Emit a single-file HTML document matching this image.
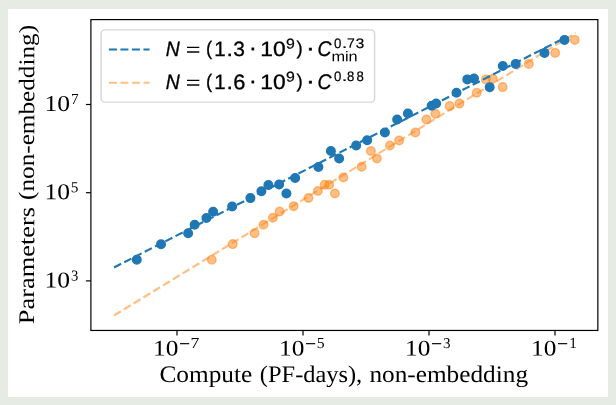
<!DOCTYPE html>
<html><head><meta charset="utf-8"><title>Parameters vs Compute scaling plot</title>
<style>html,body{margin:0;padding:0;background:#e6ece3;overflow:hidden;width:616px;height:405px} svg{display:block;will-change:transform} text{text-rendering:geometricPrecision}</style>
</head><body>
<svg width="616" height="405" viewBox="0 0 616 405">
<rect x="0" y="0" width="616" height="405" fill="#e6ece3"/>
<rect x="8" y="9" width="600" height="388" fill="#ffffff"/>
<line x1="114.00" y1="315.48" x2="575.50" y2="32.95" stroke="#ff7f0e" stroke-opacity="0.5" stroke-width="2.15" stroke-dasharray="8.03 3.47"/>
<circle cx="211.80" cy="259.80" r="4.3" fill="#ff7f0e" fill-opacity="0.5" stroke="#ff7f0e" stroke-opacity="0.5" stroke-width="1.4"/>
<circle cx="232.70" cy="244.10" r="4.3" fill="#ff7f0e" fill-opacity="0.5" stroke="#ff7f0e" stroke-opacity="0.5" stroke-width="1.4"/>
<circle cx="254.60" cy="233.20" r="4.3" fill="#ff7f0e" fill-opacity="0.5" stroke="#ff7f0e" stroke-opacity="0.5" stroke-width="1.4"/>
<circle cx="263.50" cy="224.80" r="4.3" fill="#ff7f0e" fill-opacity="0.5" stroke="#ff7f0e" stroke-opacity="0.5" stroke-width="1.4"/>
<circle cx="272.90" cy="217.75" r="4.3" fill="#ff7f0e" fill-opacity="0.5" stroke="#ff7f0e" stroke-opacity="0.5" stroke-width="1.4"/>
<circle cx="279.65" cy="211.50" r="4.3" fill="#ff7f0e" fill-opacity="0.5" stroke="#ff7f0e" stroke-opacity="0.5" stroke-width="1.4"/>
<circle cx="293.65" cy="206.25" r="4.3" fill="#ff7f0e" fill-opacity="0.5" stroke="#ff7f0e" stroke-opacity="0.5" stroke-width="1.4"/>
<circle cx="308.40" cy="198.00" r="4.3" fill="#ff7f0e" fill-opacity="0.5" stroke="#ff7f0e" stroke-opacity="0.5" stroke-width="1.4"/>
<circle cx="317.90" cy="191.00" r="4.3" fill="#ff7f0e" fill-opacity="0.5" stroke="#ff7f0e" stroke-opacity="0.5" stroke-width="1.4"/>
<circle cx="324.65" cy="184.75" r="4.3" fill="#ff7f0e" fill-opacity="0.5" stroke="#ff7f0e" stroke-opacity="0.5" stroke-width="1.4"/>
<circle cx="329.15" cy="184.75" r="4.3" fill="#ff7f0e" fill-opacity="0.5" stroke="#ff7f0e" stroke-opacity="0.5" stroke-width="1.4"/>
<circle cx="334.90" cy="193.50" r="4.3" fill="#ff7f0e" fill-opacity="0.5" stroke="#ff7f0e" stroke-opacity="0.5" stroke-width="1.4"/>
<circle cx="343.40" cy="177.50" r="4.3" fill="#ff7f0e" fill-opacity="0.5" stroke="#ff7f0e" stroke-opacity="0.5" stroke-width="1.4"/>
<circle cx="361.65" cy="166.75" r="4.3" fill="#ff7f0e" fill-opacity="0.5" stroke="#ff7f0e" stroke-opacity="0.5" stroke-width="1.4"/>
<circle cx="370.90" cy="151.00" r="4.3" fill="#ff7f0e" fill-opacity="0.5" stroke="#ff7f0e" stroke-opacity="0.5" stroke-width="1.4"/>
<circle cx="376.90" cy="158.50" r="4.3" fill="#ff7f0e" fill-opacity="0.5" stroke="#ff7f0e" stroke-opacity="0.5" stroke-width="1.4"/>
<circle cx="389.90" cy="145.50" r="4.3" fill="#ff7f0e" fill-opacity="0.5" stroke="#ff7f0e" stroke-opacity="0.5" stroke-width="1.4"/>
<circle cx="399.15" cy="140.50" r="4.3" fill="#ff7f0e" fill-opacity="0.5" stroke="#ff7f0e" stroke-opacity="0.5" stroke-width="1.4"/>
<circle cx="415.40" cy="132.50" r="4.3" fill="#ff7f0e" fill-opacity="0.5" stroke="#ff7f0e" stroke-opacity="0.5" stroke-width="1.4"/>
<circle cx="426.40" cy="119.50" r="4.3" fill="#ff7f0e" fill-opacity="0.5" stroke="#ff7f0e" stroke-opacity="0.5" stroke-width="1.4"/>
<circle cx="435.40" cy="113.75" r="4.3" fill="#ff7f0e" fill-opacity="0.5" stroke="#ff7f0e" stroke-opacity="0.5" stroke-width="1.4"/>
<circle cx="449.65" cy="106.10" r="4.3" fill="#ff7f0e" fill-opacity="0.5" stroke="#ff7f0e" stroke-opacity="0.5" stroke-width="1.4"/>
<circle cx="459.40" cy="103.60" r="4.3" fill="#ff7f0e" fill-opacity="0.5" stroke="#ff7f0e" stroke-opacity="0.5" stroke-width="1.4"/>
<circle cx="476.70" cy="92.70" r="4.3" fill="#ff7f0e" fill-opacity="0.5" stroke="#ff7f0e" stroke-opacity="0.5" stroke-width="1.4"/>
<circle cx="485.90" cy="79.40" r="4.3" fill="#ff7f0e" fill-opacity="0.5" stroke="#ff7f0e" stroke-opacity="0.5" stroke-width="1.4"/>
<circle cx="492.80" cy="78.80" r="4.3" fill="#ff7f0e" fill-opacity="0.5" stroke="#ff7f0e" stroke-opacity="0.5" stroke-width="1.4"/>
<circle cx="502.70" cy="87.10" r="4.3" fill="#ff7f0e" fill-opacity="0.5" stroke="#ff7f0e" stroke-opacity="0.5" stroke-width="1.4"/>
<circle cx="528.80" cy="63.90" r="4.3" fill="#ff7f0e" fill-opacity="0.5" stroke="#ff7f0e" stroke-opacity="0.5" stroke-width="1.4"/>
<circle cx="555.15" cy="52.90" r="4.3" fill="#ff7f0e" fill-opacity="0.5" stroke="#ff7f0e" stroke-opacity="0.5" stroke-width="1.4"/>
<circle cx="574.75" cy="39.90" r="4.3" fill="#ff7f0e" fill-opacity="0.5" stroke="#ff7f0e" stroke-opacity="0.5" stroke-width="1.4"/>
<line x1="114.00" y1="267.45" x2="564.10" y2="38.26" stroke="#1f77b4" stroke-width="2.15" stroke-dasharray="8.03 3.47"/>
<circle cx="136.80" cy="259.80" r="4.3" fill="#1f77b4" stroke="#1f77b4" stroke-width="1.4"/>
<circle cx="161.00" cy="244.30" r="4.3" fill="#1f77b4" stroke="#1f77b4" stroke-width="1.4"/>
<circle cx="188.15" cy="233.25" r="4.3" fill="#1f77b4" stroke="#1f77b4" stroke-width="1.4"/>
<circle cx="194.65" cy="224.75" r="4.3" fill="#1f77b4" stroke="#1f77b4" stroke-width="1.4"/>
<circle cx="206.40" cy="218.00" r="4.3" fill="#1f77b4" stroke="#1f77b4" stroke-width="1.4"/>
<circle cx="213.15" cy="211.75" r="4.3" fill="#1f77b4" stroke="#1f77b4" stroke-width="1.4"/>
<circle cx="232.15" cy="206.50" r="4.3" fill="#1f77b4" stroke="#1f77b4" stroke-width="1.4"/>
<circle cx="250.40" cy="198.10" r="4.3" fill="#1f77b4" stroke="#1f77b4" stroke-width="1.4"/>
<circle cx="261.40" cy="191.25" r="4.3" fill="#1f77b4" stroke="#1f77b4" stroke-width="1.4"/>
<circle cx="268.40" cy="185.00" r="4.3" fill="#1f77b4" stroke="#1f77b4" stroke-width="1.4"/>
<circle cx="279.15" cy="184.50" r="4.3" fill="#1f77b4" stroke="#1f77b4" stroke-width="1.4"/>
<circle cx="286.40" cy="193.50" r="4.3" fill="#1f77b4" stroke="#1f77b4" stroke-width="1.4"/>
<circle cx="295.15" cy="178.00" r="4.3" fill="#1f77b4" stroke="#1f77b4" stroke-width="1.4"/>
<circle cx="318.40" cy="167.00" r="4.3" fill="#1f77b4" stroke="#1f77b4" stroke-width="1.4"/>
<circle cx="330.90" cy="151.00" r="4.3" fill="#1f77b4" stroke="#1f77b4" stroke-width="1.4"/>
<circle cx="339.15" cy="158.50" r="4.3" fill="#1f77b4" stroke="#1f77b4" stroke-width="1.4"/>
<circle cx="356.15" cy="145.50" r="4.3" fill="#1f77b4" stroke="#1f77b4" stroke-width="1.4"/>
<circle cx="367.15" cy="140.25" r="4.3" fill="#1f77b4" stroke="#1f77b4" stroke-width="1.4"/>
<circle cx="384.90" cy="132.50" r="4.3" fill="#1f77b4" stroke="#1f77b4" stroke-width="1.4"/>
<circle cx="397.15" cy="119.50" r="4.3" fill="#1f77b4" stroke="#1f77b4" stroke-width="1.4"/>
<circle cx="407.90" cy="113.50" r="4.3" fill="#1f77b4" stroke="#1f77b4" stroke-width="1.4"/>
<circle cx="431.65" cy="105.75" r="4.3" fill="#1f77b4" stroke="#1f77b4" stroke-width="1.4"/>
<circle cx="436.15" cy="103.50" r="4.3" fill="#1f77b4" stroke="#1f77b4" stroke-width="1.4"/>
<circle cx="456.50" cy="92.75" r="4.3" fill="#1f77b4" stroke="#1f77b4" stroke-width="1.4"/>
<circle cx="467.30" cy="79.40" r="4.3" fill="#1f77b4" stroke="#1f77b4" stroke-width="1.4"/>
<circle cx="474.00" cy="78.50" r="4.3" fill="#1f77b4" stroke="#1f77b4" stroke-width="1.4"/>
<circle cx="489.70" cy="87.20" r="4.3" fill="#1f77b4" stroke="#1f77b4" stroke-width="1.4"/>
<circle cx="502.80" cy="66.00" r="4.3" fill="#1f77b4" stroke="#1f77b4" stroke-width="1.4"/>
<circle cx="515.70" cy="63.90" r="4.3" fill="#1f77b4" stroke="#1f77b4" stroke-width="1.4"/>
<circle cx="544.50" cy="52.90" r="4.3" fill="#1f77b4" stroke="#1f77b4" stroke-width="1.4"/>
<circle cx="564.50" cy="39.90" r="4.3" fill="#1f77b4" stroke="#1f77b4" stroke-width="1.4"/>
<rect x="90.9" y="19.6" width="506.95" height="310.85" fill="none" stroke="#000" stroke-width="1.2"/>
<line x1="177.00" y1="330.4" x2="177.00" y2="335.4" stroke="#000" stroke-width="1.2"/>
<line x1="303.00" y1="330.4" x2="303.00" y2="335.4" stroke="#000" stroke-width="1.2"/>
<line x1="429.00" y1="330.4" x2="429.00" y2="335.4" stroke="#000" stroke-width="1.2"/>
<line x1="555.00" y1="330.4" x2="555.00" y2="335.4" stroke="#000" stroke-width="1.2"/>
<line x1="85.9" y1="280.90" x2="90.9" y2="280.90" stroke="#000" stroke-width="1.2"/>
<line x1="85.9" y1="192.70" x2="90.9" y2="192.70" stroke="#000" stroke-width="1.2"/>
<line x1="85.9" y1="104.50" x2="90.9" y2="104.50" stroke="#000" stroke-width="1.2"/>
<rect x="180.00" y="343.1" width="9.2" height="1.15" fill="#000"/>
<rect x="306.00" y="343.1" width="9.2" height="1.15" fill="#000"/>
<rect x="432.00" y="343.1" width="9.2" height="1.15" fill="#000"/>
<rect x="558.00" y="343.1" width="9.2" height="1.15" fill="#000"/>
<text transform="matrix(1.1773 0.0006 0.0000 1.1028 159.4227 382.0000)" font-family="Liberation Serif, serif" font-size="21.5">Compute</text>
<text transform="matrix(1.1350 0.0006 0.0000 1.1028 259.8650 382.0000)" font-family="Liberation Serif, serif" font-size="21.5">(PF-days),</text>
<text transform="matrix(1.1754 0.0006 0.0000 1.1028 369.4123 382.0000)" font-family="Liberation Serif, serif" font-size="21.5">non-embedding</text>
<text transform="matrix(0.0005 -1.2276 1.0400 0.0000 34.1000 324.2138)" font-family="Liberation Serif, serif" font-size="21.5">Parameters</text>
<text transform="matrix(0.0005 -1.1728 1.0400 0.0000 34.1000 199.9728)" font-family="Liberation Serif, serif" font-size="21.5">(non-embedding)</text>
<text transform="matrix(1.1787 0.0005 0.0000 1.0345 153.0427 355.4414)" font-family="Liberation Serif, serif" font-size="21.5">10</text>
<text transform="matrix(1.1833 0.0005 0.0000 1.0256 190.6167 348.0000)" font-family="Liberation Serif, serif" font-size="15">7</text>
<text transform="matrix(1.1787 0.0005 0.0000 1.0345 279.0427 355.4414)" font-family="Liberation Serif, serif" font-size="21.5">10</text>
<text transform="matrix(1.0500 0.0005 0.0000 1.0256 316.7500 348.0000)" font-family="Liberation Serif, serif" font-size="15">5</text>
<text transform="matrix(1.1787 0.0005 0.0000 1.0345 405.0427 355.4414)" font-family="Liberation Serif, serif" font-size="21.5">10</text>
<text transform="matrix(1.0080 0.0005 0.0000 1.0000 443.0440 348.0000)" font-family="Liberation Serif, serif" font-size="15">3</text>
<text transform="matrix(1.1787 0.0005 0.0000 1.0345 531.0427 355.4414)" font-family="Liberation Serif, serif" font-size="21.5">10</text>
<text transform="matrix(1.0095 0.0005 0.0000 1.0256 569.3381 348.0000)" font-family="Liberation Serif, serif" font-size="15">1</text>
<text transform="matrix(1.1893 0.0005 0.0000 1.0552 44.4213 111.0862)" font-family="Liberation Serif, serif" font-size="21.5">10</text>
<text transform="matrix(1.0167 0.0005 0.0000 1.0308 71.0833 104.1000)" font-family="Liberation Serif, serif" font-size="15">7</text>
<text transform="matrix(1.1893 0.0005 0.0000 1.0552 44.4213 199.2162)" font-family="Liberation Serif, serif" font-size="21.5">10</text>
<text transform="matrix(1.0167 0.0005 0.0000 1.0308 70.7833 192.2300)" font-family="Liberation Serif, serif" font-size="15">5</text>
<text transform="matrix(1.1893 0.0005 0.0000 1.0552 44.4213 287.4862)" font-family="Liberation Serif, serif" font-size="21.5">10</text>
<text transform="matrix(0.9760 0.0005 0.0000 1.0050 71.0680 280.5000)" font-family="Liberation Serif, serif" font-size="15">3</text>
<rect x="101.1" y="29.85" width="273.5" height="72.3" rx="3.9" ry="3.9" fill="#fff" fill-opacity="0.8" stroke="#cccccc" stroke-opacity="0.8" stroke-width="1.4"/>
<line x1="108.9" y1="49.5" x2="149.6" y2="49.5" stroke="#1f77b4" stroke-width="2.15" stroke-dasharray="8.03 3.47"/>
<line x1="108.9" y1="82.7" x2="149.6" y2="82.7" stroke="#ff7f0e" stroke-opacity="0.5" stroke-width="2.15" stroke-dasharray="8.03 3.47"/>
<text transform="matrix(1.0000 0.0005 0.0000 1.0792 165.8000 55.9000)" font-family="Liberation Sans, sans-serif" font-size="19.4" font-style="italic" stroke="#000" stroke-width="0.3">N</text>
<text transform="matrix(1.3081 0.0005 0.0000 0.9440 185.6919 55.8680)" font-family="Liberation Sans, sans-serif" font-size="19.4">=</text>
<text transform="matrix(0.9600 0.0005 0.0000 1.0111 205.9000 54.9556)" font-family="Liberation Sans, sans-serif" font-size="19.4" stroke="#000" stroke-width="0.3">(</text>
<text transform="matrix(1.0545 0.0005 0.0000 1.0717 214.2182 56.0000)" font-family="Liberation Sans, sans-serif" font-size="19.4" stroke="#000" stroke-width="0.3">1</text>
<text transform="matrix(1.2000 0.0005 0.0000 1.0500 226.4000 56.0000)" font-family="Liberation Sans, sans-serif" font-size="19.4" stroke="#000" stroke-width="0.3">.</text>
<text transform="matrix(1.0811 0.0005 0.0000 1.0691 233.2892 55.9327)" font-family="Liberation Sans, sans-serif" font-size="19.4" stroke="#000" stroke-width="0.3">3</text>
<text transform="matrix(1.2000 0.0006 0.0000 1.2000 249.1000 55.3000)" font-family="Liberation Sans, sans-serif" font-size="19.4" stroke="#000" stroke-width="0.3">·</text>
<text transform="matrix(1.1740 0.0005 0.0000 1.0764 260.2390 55.9309)" font-family="Liberation Sans, sans-serif" font-size="19.4" stroke="#000" stroke-width="0.3">10</text>
<text transform="matrix(1.1680 0.0005 0.0000 1.0421 286.0240 48.4000)" font-family="Liberation Sans, sans-serif" font-size="13.6" stroke="#000" stroke-width="0.2">9</text>
<text transform="matrix(0.9600 0.0005 0.0000 0.9778 296.5600 54.5889)" font-family="Liberation Sans, sans-serif" font-size="19.4" stroke="#000" stroke-width="0.3">)</text>
<text transform="matrix(1.4500 0.0006 0.0000 1.2000 305.7375 55.4000)" font-family="Liberation Sans, sans-serif" font-size="19.4" stroke="#000" stroke-width="0.3">·</text>
<text transform="matrix(1.0000 0.0005 0.0000 1.0909 317.4000 56.0273)" font-family="Liberation Sans, sans-serif" font-size="19.4" font-style="italic" stroke="#000" stroke-width="0.3">C</text>
<text transform="matrix(0.9692 0.0005 0.0000 1.0105 334.0154 48.0000)" font-family="Liberation Sans, sans-serif" font-size="13.6" stroke="#000" stroke-width="0.2">0</text>
<text transform="matrix(1.3600 0.0005 0.0000 1.0667 341.9000 48.0000)" font-family="Liberation Sans, sans-serif" font-size="13.6" stroke="#000" stroke-width="0.2">.</text>
<text transform="matrix(1.0240 0.0005 0.0000 0.9946 346.9320 47.8000)" font-family="Liberation Sans, sans-serif" font-size="13.6" stroke="#000" stroke-width="0.2">7</text>
<text transform="matrix(1.1231 0.0005 0.0000 1.0105 355.6385 48.0000)" font-family="Liberation Sans, sans-serif" font-size="13.6" stroke="#000" stroke-width="0.2">3</text>
<text transform="matrix(1.0000 0.0005 0.0000 1.0792 165.8000 88.9000)" font-family="Liberation Sans, sans-serif" font-size="19.4" font-style="italic" stroke="#000" stroke-width="0.3">N</text>
<text transform="matrix(1.3081 0.0005 0.0000 0.9440 185.6919 88.8680)" font-family="Liberation Sans, sans-serif" font-size="19.4">=</text>
<text transform="matrix(0.9600 0.0005 0.0000 1.0111 205.9000 87.9556)" font-family="Liberation Sans, sans-serif" font-size="19.4" stroke="#000" stroke-width="0.3">(</text>
<text transform="matrix(1.0545 0.0005 0.0000 1.0717 214.2182 89.0000)" font-family="Liberation Sans, sans-serif" font-size="19.4" stroke="#000" stroke-width="0.3">1</text>
<text transform="matrix(1.2000 0.0005 0.0000 1.0500 226.4000 89.0000)" font-family="Liberation Sans, sans-serif" font-size="19.4" stroke="#000" stroke-width="0.3">.</text>
<text transform="matrix(1.1222 0.0005 0.0000 1.0909 233.2778 89.1273)" font-family="Liberation Sans, sans-serif" font-size="19.4" stroke="#000" stroke-width="0.3">6</text>
<text transform="matrix(1.2000 0.0006 0.0000 1.2000 249.1000 88.3000)" font-family="Liberation Sans, sans-serif" font-size="19.4" stroke="#000" stroke-width="0.3">·</text>
<text transform="matrix(1.1740 0.0005 0.0000 1.0764 260.2390 88.9309)" font-family="Liberation Sans, sans-serif" font-size="19.4" stroke="#000" stroke-width="0.3">10</text>
<text transform="matrix(1.1680 0.0005 0.0000 1.0421 286.0240 81.4000)" font-family="Liberation Sans, sans-serif" font-size="13.6" stroke="#000" stroke-width="0.2">9</text>
<text transform="matrix(0.9600 0.0005 0.0000 0.9778 296.5600 87.5889)" font-family="Liberation Sans, sans-serif" font-size="19.4" stroke="#000" stroke-width="0.3">)</text>
<text transform="matrix(1.4500 0.0006 0.0000 1.2000 305.7375 88.4000)" font-family="Liberation Sans, sans-serif" font-size="19.4" stroke="#000" stroke-width="0.3">·</text>
<text transform="matrix(1.0000 0.0005 0.0000 1.0909 317.4000 89.0273)" font-family="Liberation Sans, sans-serif" font-size="19.4" font-style="italic" stroke="#000" stroke-width="0.3">C</text>
<text transform="matrix(0.9692 0.0005 0.0000 1.0105 334.1154 81.0000)" font-family="Liberation Sans, sans-serif" font-size="13.6" stroke="#000" stroke-width="0.2">0</text>
<text transform="matrix(1.3600 0.0005 0.0000 1.0667 341.9000 81.0000)" font-family="Liberation Sans, sans-serif" font-size="13.6" stroke="#000" stroke-width="0.2">.</text>
<text transform="matrix(0.9692 0.0005 0.0000 1.0105 347.0154 81.0000)" font-family="Liberation Sans, sans-serif" font-size="13.6" stroke="#000" stroke-width="0.2">8</text>
<text transform="matrix(0.9692 0.0005 0.0000 1.0105 356.6154 81.0000)" font-family="Liberation Sans, sans-serif" font-size="13.6" stroke="#000" stroke-width="0.2">8</text>
<text transform="matrix(1.2000 0.0005 0.0000 1.0462 331.4000 61.2000)" font-family="Liberation Sans, sans-serif" font-size="13.6">min</text>
</svg>
</body></html>
